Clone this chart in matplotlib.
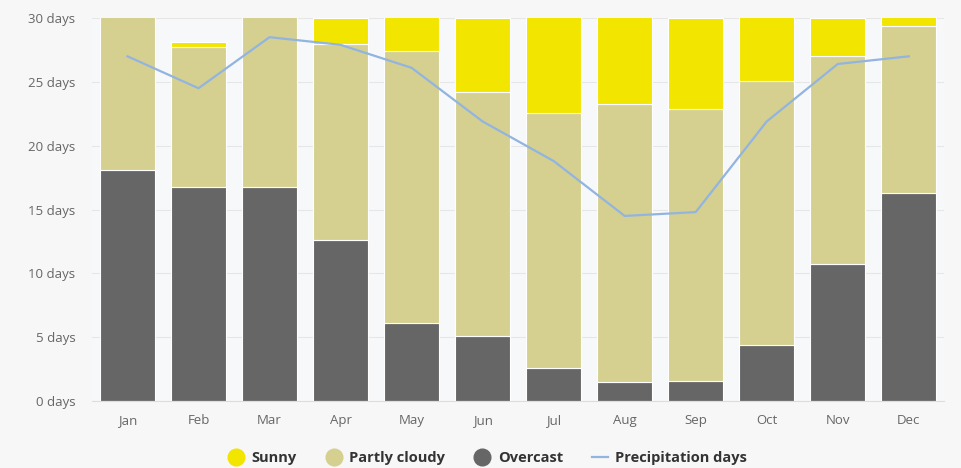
import matplotlib
matplotlib.use("Agg")
import matplotlib.pyplot as plt
from matplotlib.lines import Line2D
import numpy as np

months = ["Jan", "Feb", "Mar", "Apr", "May", "Jun", "Jul", "Aug", "Sep", "Oct", "Nov", "Dec"]
overcast = [18.1, 16.8, 16.8, 12.6, 6.1, 5.1, 2.6, 1.5, 1.6, 4.4, 10.7, 16.3]
partly_cloudy = [12.9, 10.9, 14.2, 15.4, 21.3, 19.1, 20.0, 21.8, 21.3, 20.7, 16.3, 13.1]
sunny = [0.0, 0.4, 0.0, 2.0, 3.6, 5.8, 8.4, 7.7, 7.1, 5.9, 3.0, 1.6]
precipitation = [27.0, 24.5, 28.5, 27.9, 26.1, 21.9, 18.8, 14.5, 14.8, 21.9, 26.4, 27.0]
yticks = [0, 5, 10, 15, 20, 25, 30]

c_sunny = "#f2e500"
c_partly = "#d5d08f"
c_over = "#666666"
c_line = "#92b4e0"
txt = "#666666"

plt.rcParams['font.family'] = ['Open Sans', 'DejaVu Sans']

fig = plt.figure(figsize=(9.62, 4.68), dpi=100)
fig.patch.set_facecolor("#f7f7f7")
ax = fig.add_axes([0.0956, 0.143, 0.886, 0.8185])
ax.set_facecolor("#f7f8fa")

x = np.arange(len(months))
w = 0.78
ov = np.array(overcast)
pc = np.array(partly_cloudy)
sn = np.array(sunny)
ax.bar(x, ov, w, color=c_over, edgecolor="white", linewidth=0.8, zorder=2)
ax.bar(x, pc, w, bottom=ov, color=c_partly, edgecolor="white", linewidth=0.8, zorder=2)
ax.bar(x, sn, w, bottom=ov + pc, color=c_sunny, edgecolor="white", linewidth=0.8, zorder=2)
ax.plot(x, precipitation, color=c_line, linewidth=1.6, zorder=3)

ax.set_xlim(-0.5, 11.5)
ax.set_ylim(0, 30)
ax.set_yticks(yticks)
ax.set_yticklabels([f"{v} days" for v in yticks])
ax.set_xticks(x)
ax.set_xticklabels(months)
ax.grid(axis="y", color="#e6e6e6", linewidth=0.8, zorder=0)
for s in ["top", "right", "left"]:
    ax.spines[s].set_visible(False)
ax.spines["bottom"].set_color("#dddddd")
ax.tick_params(axis="both", length=0, colors=txt, labelsize=9.5)
ax.tick_params(axis="x", pad=9)
ax.tick_params(axis="y", pad=12)

handles = [
    Line2D([], [], marker="o", linestyle="none", markersize=12, markerfacecolor=c_sunny, markeredgecolor=c_sunny),
    Line2D([], [], marker="o", linestyle="none", markersize=12, markerfacecolor=c_partly, markeredgecolor=c_partly),
    Line2D([], [], marker="o", linestyle="none", markersize=12, markerfacecolor=c_over, markeredgecolor=c_over),
    Line2D([], [], color=c_line, linewidth=1.6),
]
leg = fig.legend(handles, ["Sunny", "Partly cloudy", "Overcast", "Precipitation days"],
                 loc="center", bbox_to_anchor=(0.507, 0.022), ncol=4, frameon=False,
                 handlelength=1.1, handletextpad=0.5, columnspacing=2.0,
                 prop={"weight": "bold", "size": 10.5})
for t in leg.get_texts():
    t.set_color("#333333")

fig.savefig("out.png", dpi=100, facecolor=fig.get_facecolor())
